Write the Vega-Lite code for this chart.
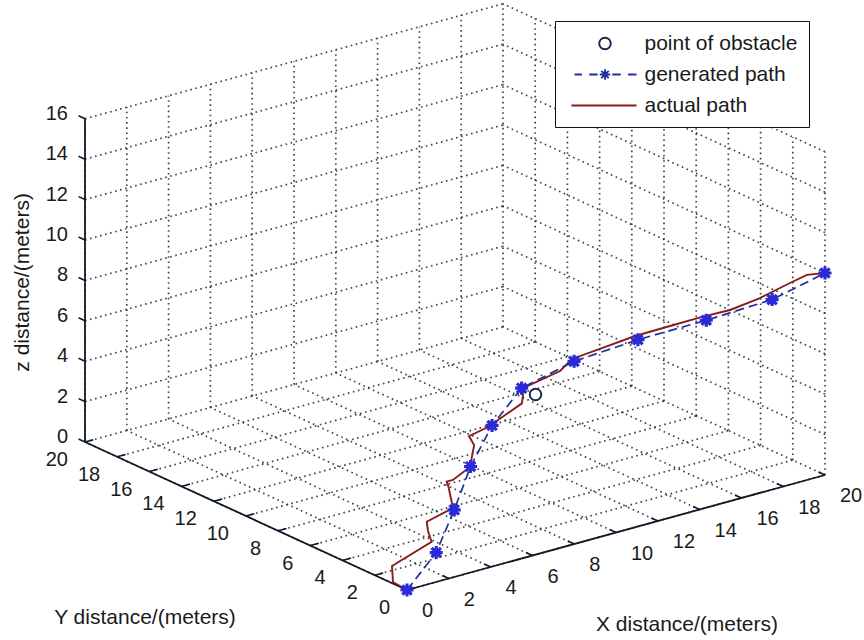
{
  "$schema": "https://vega.github.io/schema/vega-lite/v6.json",
  "width": 864,
  "height": 640,
  "autosize": {"type": "fit", "contains": "padding"},
  "padding": 0,
  "background": "white",
  "config": {"view": {"stroke": null}, "font": "Liberation Sans"},
  "datasets": {
    "grid": [
      {"x1":0,"y1":20,"z1":0,"x2":0,"y2":20,"z2":16},{"x1":2,"y1":20,"z1":0,"x2":2,"y2":20,"z2":16},{"x1":4,"y1":20,"z1":0,"x2":4,"y2":20,"z2":16},{"x1":6,"y1":20,"z1":0,"x2":6,"y2":20,"z2":16},{"x1":8,"y1":20,"z1":0,"x2":8,"y2":20,"z2":16},{"x1":10,"y1":20,"z1":0,"x2":10,"y2":20,"z2":16},{"x1":12,"y1":20,"z1":0,"x2":12,"y2":20,"z2":16},{"x1":14,"y1":20,"z1":0,"x2":14,"y2":20,"z2":16},{"x1":16,"y1":20,"z1":0,"x2":16,"y2":20,"z2":16},{"x1":18,"y1":20,"z1":0,"x2":18,"y2":20,"z2":16},{"x1":20,"y1":20,"z1":0,"x2":20,"y2":20,"z2":16},
      {"x1":0,"y1":20,"z1":0,"x2":20,"y2":20,"z2":0},{"x1":0,"y1":20,"z1":2,"x2":20,"y2":20,"z2":2},{"x1":0,"y1":20,"z1":4,"x2":20,"y2":20,"z2":4},{"x1":0,"y1":20,"z1":6,"x2":20,"y2":20,"z2":6},{"x1":0,"y1":20,"z1":8,"x2":20,"y2":20,"z2":8},{"x1":0,"y1":20,"z1":10,"x2":20,"y2":20,"z2":10},{"x1":0,"y1":20,"z1":12,"x2":20,"y2":20,"z2":12},{"x1":0,"y1":20,"z1":14,"x2":20,"y2":20,"z2":14},{"x1":0,"y1":20,"z1":16,"x2":20,"y2":20,"z2":16},
      {"x1":20,"y1":0,"z1":0,"x2":20,"y2":0,"z2":16},{"x1":20,"y1":2,"z1":0,"x2":20,"y2":2,"z2":16},{"x1":20,"y1":4,"z1":0,"x2":20,"y2":4,"z2":16},{"x1":20,"y1":6,"z1":0,"x2":20,"y2":6,"z2":16},{"x1":20,"y1":8,"z1":0,"x2":20,"y2":8,"z2":16},{"x1":20,"y1":10,"z1":0,"x2":20,"y2":10,"z2":16},{"x1":20,"y1":12,"z1":0,"x2":20,"y2":12,"z2":16},{"x1":20,"y1":14,"z1":0,"x2":20,"y2":14,"z2":16},{"x1":20,"y1":16,"z1":0,"x2":20,"y2":16,"z2":16},{"x1":20,"y1":18,"z1":0,"x2":20,"y2":18,"z2":16},
      {"x1":20,"y1":0,"z1":0,"x2":20,"y2":20,"z2":0},{"x1":20,"y1":0,"z1":2,"x2":20,"y2":20,"z2":2},{"x1":20,"y1":0,"z1":4,"x2":20,"y2":20,"z2":4},{"x1":20,"y1":0,"z1":6,"x2":20,"y2":20,"z2":6},{"x1":20,"y1":0,"z1":8,"x2":20,"y2":20,"z2":8},{"x1":20,"y1":0,"z1":10,"x2":20,"y2":20,"z2":10},{"x1":20,"y1":0,"z1":12,"x2":20,"y2":20,"z2":12},{"x1":20,"y1":0,"z1":14,"x2":20,"y2":20,"z2":14},{"x1":20,"y1":0,"z1":16,"x2":20,"y2":20,"z2":16},
      {"x1":0,"y1":0,"z1":0,"x2":0,"y2":20,"z2":0},{"x1":2,"y1":0,"z1":0,"x2":2,"y2":20,"z2":0},{"x1":4,"y1":0,"z1":0,"x2":4,"y2":20,"z2":0},{"x1":6,"y1":0,"z1":0,"x2":6,"y2":20,"z2":0},{"x1":8,"y1":0,"z1":0,"x2":8,"y2":20,"z2":0},{"x1":10,"y1":0,"z1":0,"x2":10,"y2":20,"z2":0},{"x1":12,"y1":0,"z1":0,"x2":12,"y2":20,"z2":0},{"x1":14,"y1":0,"z1":0,"x2":14,"y2":20,"z2":0},{"x1":16,"y1":0,"z1":0,"x2":16,"y2":20,"z2":0},{"x1":18,"y1":0,"z1":0,"x2":18,"y2":20,"z2":0},
      {"x1":0,"y1":0,"z1":0,"x2":20,"y2":0,"z2":0},{"x1":0,"y1":2,"z1":0,"x2":20,"y2":2,"z2":0},{"x1":0,"y1":4,"z1":0,"x2":20,"y2":4,"z2":0},{"x1":0,"y1":6,"z1":0,"x2":20,"y2":6,"z2":0},{"x1":0,"y1":8,"z1":0,"x2":20,"y2":8,"z2":0},{"x1":0,"y1":10,"z1":0,"x2":20,"y2":10,"z2":0},{"x1":0,"y1":12,"z1":0,"x2":20,"y2":12,"z2":0},{"x1":0,"y1":14,"z1":0,"x2":20,"y2":14,"z2":0},{"x1":0,"y1":16,"z1":0,"x2":20,"y2":16,"z2":0},{"x1":0,"y1":18,"z1":0,"x2":20,"y2":18,"z2":0}
    ],
    "axes": [
      {"x1":0,"y1":0,"z1":0,"x2":20,"y2":0,"z2":0},
      {"x1":0,"y1":0,"z1":0,"x2":0,"y2":20,"z2":0},
      {"x1":0,"y1":20,"z1":0,"x2":0,"y2":20,"z2":16}
    ],
    "ticks": [
      {"axis":"x","x":0,"y":0,"z":0},{"axis":"x","x":2,"y":0,"z":0},{"axis":"x","x":4,"y":0,"z":0},{"axis":"x","x":6,"y":0,"z":0},{"axis":"x","x":8,"y":0,"z":0},{"axis":"x","x":10,"y":0,"z":0},{"axis":"x","x":12,"y":0,"z":0},{"axis":"x","x":14,"y":0,"z":0},{"axis":"x","x":16,"y":0,"z":0},{"axis":"x","x":18,"y":0,"z":0},{"axis":"x","x":20,"y":0,"z":0},
      {"axis":"y","x":0,"y":0,"z":0},{"axis":"y","x":0,"y":2,"z":0},{"axis":"y","x":0,"y":4,"z":0},{"axis":"y","x":0,"y":6,"z":0},{"axis":"y","x":0,"y":8,"z":0},{"axis":"y","x":0,"y":10,"z":0},{"axis":"y","x":0,"y":12,"z":0},{"axis":"y","x":0,"y":14,"z":0},{"axis":"y","x":0,"y":16,"z":0},{"axis":"y","x":0,"y":18,"z":0},{"axis":"y","x":0,"y":20,"z":0},
      {"axis":"z","x":0,"y":20,"z":0},{"axis":"z","x":0,"y":20,"z":2},{"axis":"z","x":0,"y":20,"z":4},{"axis":"z","x":0,"y":20,"z":6},{"axis":"z","x":0,"y":20,"z":8},{"axis":"z","x":0,"y":20,"z":10},{"axis":"z","x":0,"y":20,"z":12},{"axis":"z","x":0,"y":20,"z":14},{"axis":"z","x":0,"y":20,"z":16}
    ],
    "gen": [
      {"i":0,"x":0,"y":0,"z":0},{"i":1,"x":2,"y":0.78,"z":1},{"i":2,"x":4,"y":2.26,"z":2},{"i":3,"x":6,"y":3.84,"z":3},{"i":4,"x":8,"y":5.1,"z":4},{"i":5,"x":10,"y":5.86,"z":5},{"i":6,"x":12,"y":5.2,"z":6},{"i":7,"x":14,"y":3.83,"z":7},{"i":8,"x":16,"y":2.18,"z":8},{"i":9,"x":18,"y":0.69,"z":9},{"i":10,"x":20,"y":0,"z":10}
    ],
    "act": [
      {"i":0,"x":0,"y":0,"z":0},{"i":1,"x":0.06,"y":0.95,"z":0.03},{"i":2,"x":0.67,"y":1.8,"z":0.34},{"i":3,"x":2.34,"y":1.51,"z":1.17},{"i":4,"x":2.7,"y":2.2,"z":1.35},{"i":5,"x":3.04,"y":2.72,"z":1.52},{"i":6,"x":4.05,"y":2.4,"z":2.03},{"i":7,"x":4.87,"y":3.77,"z":2.43},{"i":8,"x":4.97,"y":3.99,"z":2.49},{"i":9,"x":5.15,"y":3.83,"z":2.58},{"i":10,"x":5.97,"y":3.84,"z":2.98},{"i":11,"x":6.91,"y":4.8,"z":3.45},{"i":12,"x":7.17,"y":5.46,"z":3.58},{"i":13,"x":7.87,"y":5.18,"z":3.93},{"i":14,"x":9.41,"y":5.08,"z":4.7},{"i":15,"x":9.76,"y":5.46,"z":4.88},{"i":16,"x":9.9,"y":5.83,"z":4.95},{"i":17,"x":10.03,"y":5.82,"z":5.01},{"i":18,"x":11.37,"y":5.25,"z":5.68},{"i":19,"x":12.05,"y":5.4,"z":6.03},{"i":20,"x":12.95,"y":4.83,"z":6.48},{"i":21,"x":14.09,"y":4.13,"z":7.05},{"i":22,"x":15.12,"y":3.29,"z":7.56},{"i":23,"x":16.05,"y":2.51,"z":8.03},{"i":24,"x":16.83,"y":1.78,"z":8.42},{"i":25,"x":17.84,"y":1.24,"z":8.92},{"i":26,"x":18.97,"y":0.84,"z":9.49},{"i":27,"x":19.6,"y":0.6,"z":9.8},{"i":28,"x":20,"y":0,"z":10}
    ],
    "obs": [{"x":10,"y":5,"z":5}]
  },
  "layer": [
    {
      "data": {"name": "grid"},
      "transform": [
        {"calculate": "20.9*datum.x1 - 16.1*datum.y1", "as": "u"},
        {"calculate": "5.75*datum.x1 + 7.4*datum.y1 + 20.2*datum.z1", "as": "v"},
        {"calculate": "20.9*datum.x2 - 16.1*datum.y2", "as": "u2"},
        {"calculate": "5.75*datum.x2 + 7.4*datum.y2 + 20.2*datum.z2", "as": "v2"}
      ],
      "mark": {"type": "rule", "color": "#1c2630", "strokeWidth": 1.7, "strokeDash": [1.6, 3.6], "opacity": 0.85},
      "encoding": {
        "x": {"field": "u", "type": "quantitative", "scale": {"domain": [-407, 457], "nice": false, "zero": false}, "axis": null},
        "y": {"field": "v", "type": "quantitative", "scale": {"domain": [-50, 590], "nice": false, "zero": false}, "axis": null},
        "x2": {"field": "u2"},
        "y2": {"field": "v2"}
      }
    },
    {
      "data": {"name": "axes"},
      "transform": [
        {"calculate": "20.9*datum.x1 - 16.1*datum.y1", "as": "u"},
        {"calculate": "5.75*datum.x1 + 7.4*datum.y1 + 20.2*datum.z1", "as": "v"},
        {"calculate": "20.9*datum.x2 - 16.1*datum.y2", "as": "u2"},
        {"calculate": "5.75*datum.x2 + 7.4*datum.y2 + 20.2*datum.z2", "as": "v2"}
      ],
      "mark": {"type": "rule", "color": "#0e1a26", "strokeWidth": 1.8},
      "encoding": {
        "x": {"field": "u", "type": "quantitative", "axis": null},
        "y": {"field": "v", "type": "quantitative", "axis": null},
        "x2": {"field": "u2"},
        "y2": {"field": "v2"}
      }
    },
    {
      "data": {"name": "ticks"},
      "transform": [
        {"calculate": "datum.x + (datum.axis === 'y' ? 0.4 : 0)", "as": "tx"},
        {"calculate": "datum.y + (datum.axis === 'y' ? 0 : 0.4)", "as": "ty"},
        {"calculate": "20.9*datum.x - 16.1*datum.y", "as": "u"},
        {"calculate": "5.75*datum.x + 7.4*datum.y + 20.2*datum.z", "as": "v"},
        {"calculate": "20.9*datum.tx - 16.1*datum.ty", "as": "u2"},
        {"calculate": "5.75*datum.tx + 7.4*datum.ty + 20.2*datum.z", "as": "v2"}
      ],
      "mark": {"type": "rule", "color": "#0e1a26", "strokeWidth": 1.6},
      "encoding": {
        "x": {"field": "u", "type": "quantitative", "axis": null},
        "y": {"field": "v", "type": "quantitative", "axis": null},
        "x2": {"field": "u2"},
        "y2": {"field": "v2"}
      }
    },
    {
      "data": {"name": "ticks"},
      "transform": [
        {"filter": "datum.axis === 'x'"},
        {"calculate": "20.9*datum.x - 16.1*datum.y", "as": "u"},
        {"calculate": "5.75*datum.x + 7.4*datum.y + 20.2*datum.z", "as": "v"}
      ],
      "mark": {"type": "text", "align": "left", "baseline": "middle", "dx": 15, "dy": 21, "fontSize": 20, "color": "#1a1a1a"},
      "encoding": {
        "x": {"field": "u", "type": "quantitative", "axis": null},
        "y": {"field": "v", "type": "quantitative", "axis": null},
        "text": {"field": "x", "type": "quantitative"}
      }
    },
    {
      "data": {"name": "ticks"},
      "transform": [
        {"filter": "datum.axis === 'y'"},
        {"calculate": "20.9*datum.x - 16.1*datum.y", "as": "u"},
        {"calculate": "5.75*datum.x + 7.4*datum.y + 20.2*datum.z", "as": "v"}
      ],
      "mark": {"type": "text", "align": "right", "baseline": "middle", "dx": -17, "dy": 18, "fontSize": 20, "color": "#1a1a1a"},
      "encoding": {
        "x": {"field": "u", "type": "quantitative", "axis": null},
        "y": {"field": "v", "type": "quantitative", "axis": null},
        "text": {"field": "y", "type": "quantitative"}
      }
    },
    {
      "data": {"name": "ticks"},
      "transform": [
        {"filter": "datum.axis === 'z'"},
        {"calculate": "20.9*datum.x - 16.1*datum.y", "as": "u"},
        {"calculate": "5.75*datum.x + 7.4*datum.y + 20.2*datum.z", "as": "v"}
      ],
      "mark": {"type": "text", "align": "right", "baseline": "middle", "dx": -17, "dy": -5, "fontSize": 20, "color": "#1a1a1a"},
      "encoding": {
        "x": {"field": "u", "type": "quantitative", "axis": null},
        "y": {"field": "v", "type": "quantitative", "axis": null},
        "text": {"field": "z", "type": "quantitative"}
      }
    },
    {
      "data": {"values": [{"t": "X distance/(meters)", "x": 10, "y": 0, "z": 0}]},
      "transform": [
        {"calculate": "20.9*datum.x - 16.1*datum.y", "as": "u"},
        {"calculate": "5.75*datum.x + 7.4*datum.y + 20.2*datum.z", "as": "v"}
      ],
      "mark": {"type": "text", "align": "center", "baseline": "middle", "dx": 71, "dy": 92, "fontSize": 21, "color": "#1a1a1a"},
      "encoding": {
        "x": {"field": "u", "type": "quantitative", "axis": null},
        "y": {"field": "v", "type": "quantitative", "axis": null},
        "text": {"field": "t", "type": "nominal"}
      }
    },
    {
      "data": {"values": [{"t": "Y distance/(meters)", "x": 0, "y": 10, "z": 0}]},
      "transform": [
        {"calculate": "20.9*datum.x - 16.1*datum.y", "as": "u"},
        {"calculate": "5.75*datum.x + 7.4*datum.y + 20.2*datum.z", "as": "v"}
      ],
      "mark": {"type": "text", "align": "center", "baseline": "middle", "dx": -101, "dy": 102, "fontSize": 21, "color": "#1a1a1a"},
      "encoding": {
        "x": {"field": "u", "type": "quantitative", "axis": null},
        "y": {"field": "v", "type": "quantitative", "axis": null},
        "text": {"field": "t", "type": "nominal"}
      }
    },
    {
      "data": {"values": [{"t": "z distance/(meters)", "x": 0, "y": 20, "z": 8}]},
      "transform": [
        {"calculate": "20.9*datum.x - 16.1*datum.y", "as": "u"},
        {"calculate": "5.75*datum.x + 7.4*datum.y + 20.2*datum.z", "as": "v"}
      ],
      "mark": {"type": "text", "align": "center", "baseline": "middle", "angle": 270, "dx": -2, "dy": -62, "fontSize": 21, "color": "#1a1a1a"},
      "encoding": {
        "x": {"field": "u", "type": "quantitative", "axis": null},
        "y": {"field": "v", "type": "quantitative", "axis": null},
        "text": {"field": "t", "type": "nominal"}
      }
    },
    {
      "data": {"name": "act"},
      "transform": [
        {"calculate": "20.9*datum.x - 16.1*datum.y", "as": "u"},
        {"calculate": "5.75*datum.x + 7.4*datum.y + 20.2*datum.z", "as": "v"}
      ],
      "mark": {"type": "line", "strokeWidth": 1.9},
      "encoding": {
        "x": {"field": "u", "type": "quantitative", "axis": null},
        "y": {"field": "v", "type": "quantitative", "axis": null},
        "order": {"field": "i", "type": "quantitative"},
        "color": {
          "datum": "actual path",
          "type": "nominal",
          "scale": {"domain": ["point of obstacle", "generated path", "actual path"], "range": ["#1a2550", "#1f2f9e", "#8b1c1c"]},
          "legend": {
            "title": null,
            "orient": "none",
            "legendX": 555,
            "legendY": 21,
            "padding": 11,
            "rowPadding": 9,
            "strokeColor": "#111111",
            "fillColor": "#ffffff",
            "cornerRadius": 0,
            "labelFont": "Liberation Sans",
            "labelFontSize": 21,
            "labelColor": "#1a1a1a",
            "labelBaseline": "middle",
            "symbolSize": 441,
            "symbolOffset": 27.5,
            "labelOffset": 28,
            "symbolFillColor": "transparent",
            "symbolStrokeWidth": 1.9
          }
        }
      }
    },
    {
      "data": {"name": "gen"},
      "transform": [
        {"calculate": "20.9*datum.x - 16.1*datum.y", "as": "u"},
        {"calculate": "5.75*datum.x + 7.4*datum.y + 20.2*datum.z", "as": "v"}
      ],
      "mark": {"type": "line", "strokeWidth": 1.7, "strokeDash": [9, 5]},
      "encoding": {
        "x": {"field": "u", "type": "quantitative", "axis": null},
        "y": {"field": "v", "type": "quantitative", "axis": null},
        "order": {"field": "i", "type": "quantitative"},
        "color": {"datum": "generated path", "type": "nominal"}
      }
    },
    {
      "data": {"name": "gen"},
      "transform": [
        {"calculate": "20.9*datum.x - 16.1*datum.y", "as": "u"},
        {"calculate": "5.75*datum.x + 7.4*datum.y + 20.2*datum.z", "as": "v"}
      ],
      "mark": {"type": "point", "shape": "M-1,0H1M0,-1V1M-0.72,-0.72L0.72,0.72M-0.72,0.72L0.72,-0.72", "size": 170, "filled": false, "strokeWidth": 3.2, "color": "#2a2ad6", "opacity": 1},
      "encoding": {
        "x": {"field": "u", "type": "quantitative", "axis": null},
        "y": {"field": "v", "type": "quantitative", "axis": null}
      }
    },
    {
      "data": {"name": "obs"},
      "transform": [
        {"calculate": "20.9*datum.x - 16.1*datum.y", "as": "u"},
        {"calculate": "5.75*datum.x + 7.4*datum.y + 20.2*datum.z", "as": "v"}
      ],
      "mark": {"type": "point", "size": 441, "filled": false, "strokeWidth": 1.9, "opacity": 1},
      "encoding": {
        "x": {"field": "u", "type": "quantitative", "axis": null},
        "y": {"field": "v", "type": "quantitative", "axis": null},
        "color": {"datum": "point of obstacle", "type": "nominal"},
        "shape": {
          "datum": "point of obstacle",
          "type": "nominal",
          "scale": {
            "domain": ["point of obstacle", "generated path", "actual path"],
            "range": [
              "M0.55,0A0.55,0.55,0,1,1,-0.55,0A0.55,0.55,0,1,1,0.55,0Z",
              "M-2.9,0H-2.2M-1.5,0H-0.7M0.7,0H1.5M2.2,0H3M-0.5,0H0.5M0,-0.5V0.5M-0.35,-0.35L0.35,0.35M-0.35,0.35L0.35,-0.35",
              "M-3.2,0H3"
            ]
          },
          "legend": {"title": null, "orient": "none", "legendX": 555, "legendY": 21}
        }
      }
    }
  ]
}
